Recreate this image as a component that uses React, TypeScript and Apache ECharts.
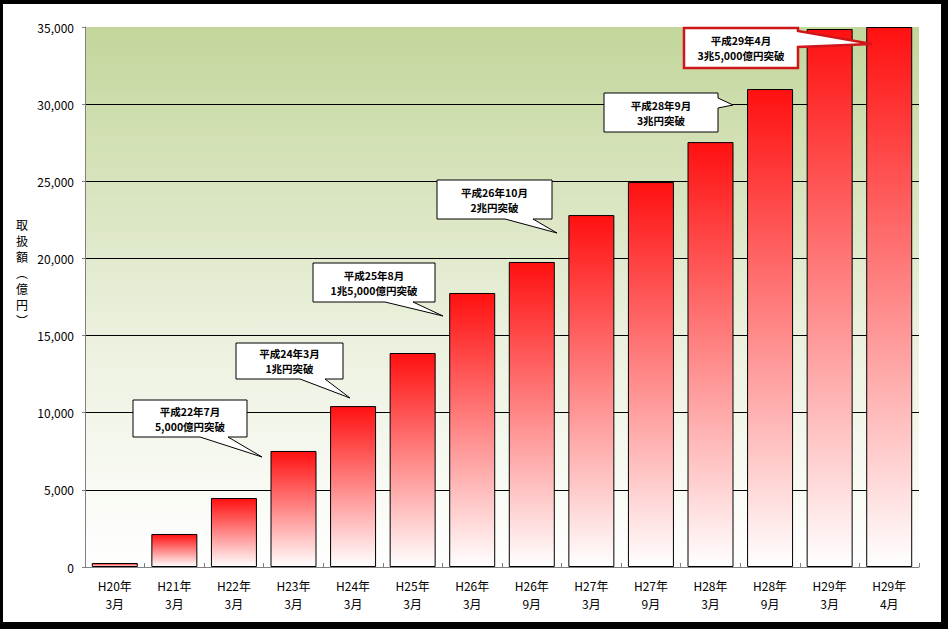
import React, { useEffect, useRef } from "react";
import * as echarts from "echarts";

const categories = [
  "H20年\n3月", "H21年\n3月", "H22年\n3月", "H23年\n3月", "H24年\n3月", "H25年\n3月", "H26年\n3月",
  "H26年\n9月", "H27年\n3月", "H27年\n9月", "H28年\n3月", "H28年\n9月", "H29年\n3月", "H29年\n4月",
];
const values = [260, 2140, 4470, 7520, 10430, 13870, 17760, 19770, 22810, 24950, 27540, 30980, 34870, 35000];
const yTicks = [0, 5000, 10000, 15000, 20000, 25000, 30000, 35000];
const yAxisName = ["取", "扱", "額", "︵", "億", "円", "︶"];
const calloutTexts = [
  ["平成22年7月", "5,000億円突破"],
  ["平成24年3月", "1兆円突破"],
  ["平成25年8月", "1兆5,000億円突破"],
  ["平成26年10月", "2兆円突破"],
  ["平成28年9月", "3兆円突破"],
  ["平成29年4月", "3兆5,000億円突破"],
];

const FONT = "'Noto Sans CJK JP', 'Noto Sans', sans-serif";

// callout shapes: box [x, y, w, h], outline polygon points
const calloutShapes: { box: number[]; pts: number[][]; red?: boolean }[] = [
  { box: [133, 400, 114, 37], pts: [[133, 400], [247, 400], [247, 437], [228, 437], [262, 457], [200, 437], [133, 437]] },
  { box: [236, 343, 107, 36], pts: [[236, 343], [343, 343], [343, 379], [325, 379], [350, 398], [300, 379], [236, 379]] },
  { box: [313, 263, 122, 39], pts: [[313, 263], [435, 263], [435, 302], [413, 302], [443, 316], [385, 302], [313, 302]] },
  { box: [437, 180, 115, 39], pts: [[437, 180], [552, 180], [552, 219], [533, 219], [557, 233], [505, 219], [437, 219]] },
  { box: [604, 93, 114, 39], pts: [[604, 93], [718, 93], [718, 98], [733, 105], [718, 108], [718, 132], [604, 132]] },
  { box: [684, 28, 114, 40], pts: [[684, 28], [798, 28], [798, 31], [872, 44], [798, 47], [798, 68], [684, 68]], red: true },
];
const nameYs = [224, 240, 256, 272, 288, 304, 320];

export default function App() {
  const ref = useRef<HTMLDivElement>(null);
  useEffect(() => {
    document.body.style.margin = "0";
    const chart = echarts.init(ref.current!, null, { renderer: "svg" });

    const graphics: any[] = [];
    calloutShapes.forEach((c, i) => {
      graphics.push({
        type: "polygon",
        shape: { points: c.pts },
        style: { fill: "#ffffff", stroke: c.red ? "#d0161b" : "#000000", lineWidth: c.red ? 2.5 : 1 },
        z: 100,
      });
      calloutTexts[i].forEach((line, j) => {
        graphics.push({
          type: "text",
          x: c.box[0] + c.box[2] / 2,
          y: c.box[1] + c.box[3] / 2 + (j === 0 ? -7.5 : 7.5),
          style: {
            text: line,
            fontFamily: FONT,
            fontSize: 10.5,
            fontWeight: "bold",
            fill: "#000",
            align: "center",
            verticalAlign: "middle",
          },
          z: 101,
        });
      });
    });
    yAxisName.forEach((ch, i) => {
      graphics.push({
        type: "text",
        x: 22,
        y: nameYs[i],
        style: {
          text: ch,
          fontFamily: FONT,
          fontSize: 12,
          fill: "#000",
          align: "center",
          verticalAlign: "middle",
        },
      });
    });
    // frame
    graphics.push({ type: "rect", shape: { x: 0, y: 0, width: 948, height: 4 }, style: { fill: "#000" }, z: 200 });
    graphics.push({ type: "rect", shape: { x: 0, y: 0, width: 3, height: 629 }, style: { fill: "#000" }, z: 200 });
    graphics.push({ type: "rect", shape: { x: 941, y: 0, width: 7, height: 629 }, style: { fill: "#000" }, z: 200 });
    graphics.push({ type: "rect", shape: { x: 0, y: 622, width: 948, height: 7 }, style: { fill: "#000" }, z: 200 });

    chart.setOption({
      animation: false,
      backgroundColor: "#ffffff",
      textStyle: { fontFamily: FONT },
      grid: {
        left: 85,
        top: 27,
        right: 29,
        bottom: 62,
        show: true,
        borderWidth: 0,
        backgroundColor: new echarts.graphic.LinearGradient(0, 0, 0, 1, [
          { offset: 0, color: "#c3d69b" },
          { offset: 0.55, color: "#eaf0dc" },
          { offset: 1, color: "#ffffff" },
        ]),
      },
      xAxis: {
        type: "category",
        data: categories,
        axisLine: { show: true, lineStyle: { color: "#808080", width: 1 } },
        axisTick: { show: true, inside: true, length: 4, lineStyle: { color: "#808080" } },
        axisLabel: { color: "#000", fontSize: 12, lineHeight: 18, margin: 9, fontFamily: FONT, interval: 0 },
      },
      yAxis: {
        type: "value",
        min: yTicks[0],
        max: yTicks[yTicks.length - 1],
        interval: yTicks[1] - yTicks[0],
        axisLine: { show: true, lineStyle: { color: "#808080" } },
        axisTick: { show: true, length: 3, lineStyle: { color: "#808080" } },
        axisLabel: {
          color: "#000",
          fontSize: 12,
          margin: 11,
          fontFamily: FONT,
          formatter: (v: number) => v.toLocaleString("en-US"),
        },
        splitLine: {
          show: true,
          lineStyle: {
            color: ["#808080", "#000", "#000", "#000", "#000", "#000", "#000", "rgba(0,0,0,0)"],
            width: 1,
          },
        },
      },
      series: [
        {
          type: "bar",
          data: values,
          barWidth: 46,
          itemStyle: {
            color: new echarts.graphic.LinearGradient(0, 0, 0, 1, [
              { offset: 0, color: "#ff1010" },
              { offset: 1, color: "#ffffff" },
            ]),
            borderColor: "#000",
            borderWidth: 1,
          },
        },
      ],
      graphic: graphics,
    });
    return () => chart.dispose();
  }, []);
  return <div ref={ref} style={{ width: 948, height: 629 }} />;
}
